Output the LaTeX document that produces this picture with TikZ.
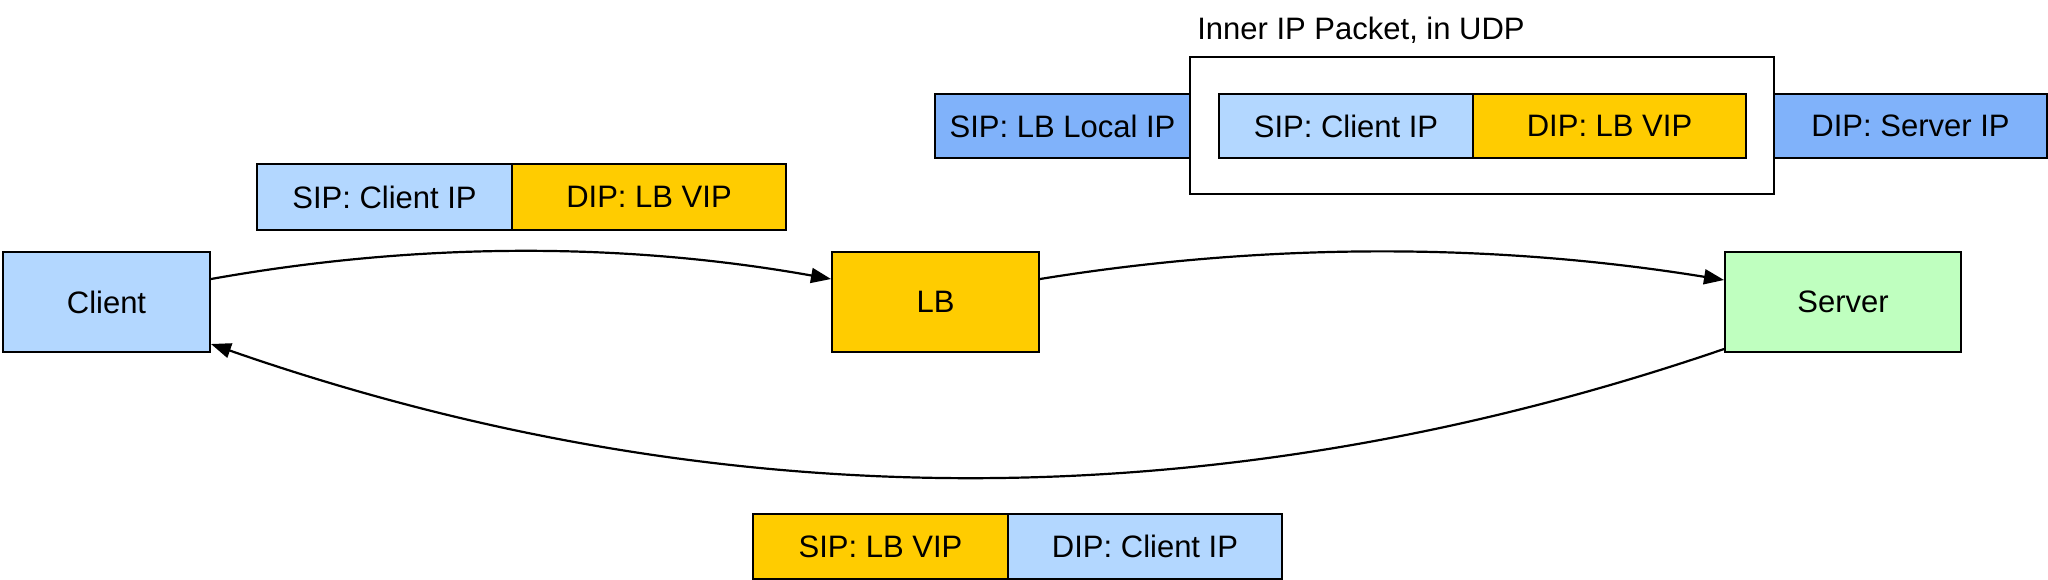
\documentclass[tikz,border=0pt]{standalone}
\usepackage{fontspec}
\setmainfont{Liberation Sans}
\usetikzlibrary{arrows.meta}
\definecolor{lblue}{RGB}{179,215,255}
\definecolor{mblue}{RGB}{128,178,250}
\definecolor{lyellow}{RGB}{255,204,0}
\definecolor{lgreen}{RGB}{191,255,191}
\tikzset{
  box/.style={draw=black, line width=1pt, inner sep=0pt, anchor=north west,
    font=\fontsize{15.5}{18}\selectfont, text=black},
  arr/.style={line width=1.1pt, -{Triangle[length=10pt,width=7.5pt]}},
}
\begin{document}
\begin{tikzpicture}[x=0.5pt,y=-0.5pt]
\useasboundingbox (0,0) rectangle (2048,579);
% main nodes
\node[box, fill=lblue, minimum width=103.5pt, minimum height=50pt] (client) at (2,251) {Client};
\node[box, fill=lyellow, minimum width=103.5pt, minimum height=50pt] (lb) at (831,251) {LB};
\node[box, fill=lgreen, minimum width=118pt, minimum height=50pt] (server) at (1724,251) {Server};
% packet client -> LB
\node[box, fill=lblue, minimum width=127.5pt, minimum height=33pt] (p1s) at (256,163) {SIP: Client IP};
\node[box, fill=lyellow, minimum width=137pt, minimum height=33pt] (p1d) at (511,163) {DIP: LB VIP};
% encapsulated packet LB -> server
\node[font=\fontsize{15.5}{18}\selectfont] (title) at (1361,30) {Inner IP Packet, in UDP};
\node[box, fill=white, minimum width=292pt, minimum height=68.5pt] (outer) at (1189,56) {};
\node[box, fill=mblue, minimum width=127.5pt, minimum height=32pt] (lbloc) at (934,93) {SIP: LB Local IP};
\node[box, fill=lblue, minimum width=127pt, minimum height=32pt] (p2s) at (1218,93) {SIP: Client IP};
\node[box, fill=lyellow, minimum width=136.5pt, minimum height=32pt] (p2d) at (1472,93) {DIP: LB VIP};
\node[box, fill=mblue, minimum width=136.5pt, minimum height=32pt] (dsrv) at (1773,93) {DIP: Server IP};
% packet server -> client
\node[box, fill=lyellow, minimum width=127.5pt, minimum height=32.5pt] (p3s) at (752,513) {SIP: LB VIP};
\node[box, fill=lblue, minimum width=137pt, minimum height=32.5pt] (p3d) at (1007,513) {DIP: Client IP};
% connectors
\draw[arr] ([yshift=11.5pt]client.east) .. controls +(207,-37) and +(-207,-37) .. ([yshift=11.5pt]lb.west);
\draw[arr] ([yshift=11.5pt]lb.east) .. controls +(228,-37) and +(-228,-37) .. ([yshift=11pt]server.west);
\draw[arr] ([yshift=-23.5pt]server.west) .. controls +(-505,173) and +(505,176) .. ([yshift=-21pt]client.east);
\end{tikzpicture}
\end{document}
